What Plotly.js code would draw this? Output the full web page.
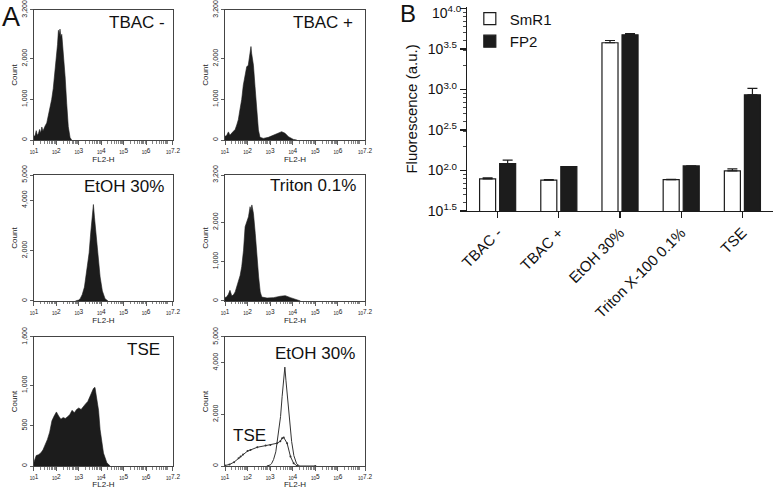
<!DOCTYPE html>
<html><head><meta charset="utf-8">
<script src="https://cdn.plot.ly/plotly-3.0.1.min.js"></script>
<style>html,body{margin:0;padding:0;background:#fff}#chart{width:774px;height:489px}</style>
</head><body><div id="chart"></div>
<script>
// ---------- Panel A: flow cytometry histograms (FL2-H in log10 units, counts) ----------
const tbacMinusLog = [1.00,1.05,1.10,1.15,1.20,1.25,1.30,1.35,1.40,1.45,1.50,1.57,1.64,1.72,1.79,1.86,1.94,2.01,2.05,2.09,2.13,2.16,2.20,2.24,2.31,2.39,2.46,2.53,2.61,2.68];
const tbacMinusCount = [90,110,230,120,160,260,170,320,220,300,350,420,600,800,1000,1270,1700,2100,2350,2700,2600,2730,2550,2600,2200,1550,900,330,60,0];

const tbacPlusLog = [1.00,1.07,1.15,1.22,1.30,1.37,1.45,1.52,1.59,1.66,1.74,1.81,1.89,1.96,2.03,2.07,2.11,2.15,2.18,2.22,2.26,2.33,2.40,2.48,2.55,2.70,2.92,3.14,3.36,3.51,3.66,3.81,4.03,4.18];
const tbacPlusCount = [90,110,200,120,170,210,260,370,500,740,1000,1350,1600,1800,1840,2050,2215,2300,2130,2000,1840,1310,740,245,65,40,65,125,180,205,165,80,15,0];

const etohLog = [2.85,3.00,3.06,3.15,3.25,3.32,3.40,3.46,3.53,3.60,3.65,3.70,3.77,3.85,3.95,4.05,4.17,4.30];
const etohCount = [0,40,90,250,550,955,1450,1915,2700,3500,3830,3300,2600,1915,955,400,90,0];

const tritonLog = [1.00,1.07,1.15,1.22,1.30,1.37,1.45,1.52,1.60,1.67,1.74,1.82,1.89,1.97,2.04,2.11,2.15,2.19,2.26,2.34,2.41,2.49,2.56,2.63,2.86,3.15,3.45,3.67,3.90,4.12,4.34];
const tritonCount = [90,100,170,270,130,150,230,355,480,650,870,1290,1885,2010,2140,2395,2300,2440,2225,1715,1120,610,230,100,75,85,120,135,85,35,0];

const tseLog = [1.00,1.10,1.20,1.30,1.40,1.50,1.60,1.70,1.80,1.90,2.00,2.10,2.20,2.30,2.40,2.50,2.60,2.70,2.80,2.90,3.00,3.10,3.20,3.30,3.40,3.50,3.58,3.65,3.72,3.80,3.88,3.95,4.05,4.10,4.25,4.40];
const tseCount = [50,130,140,160,200,260,330,420,560,620,670,620,580,600,590,610,640,690,660,700,720,700,740,770,800,860,930,960,975,850,690,450,250,160,40,0];

const tseOverlayLog = [1.00,1.20,1.40,1.60,1.69,1.80,2.00,2.13,2.43,2.80,3.01,3.31,3.45,3.53,3.60,3.75,3.90,4.04,4.20,5.00];
const tseOverlayCount = [20,60,150,300,364,450,580,623,727,790,818,883,960,1078,1104,883,364,104,0,0];

const decadeTicks = [10,100,1000,10000,100000,1000000,15848932];
const decadeLabels = ['1','2','3','4','5','6','7.2'];

// ---------- Panel B: bar chart ----------
const categories = ['TBAC -','TBAC +','EtOH 30%','Triton X-100 0.1%','TSE'];
const smr1 = [79, 76, 3780, 77, 99];
const smr1Err = [2, 1, 250, 1, 6];
const fp2 = [122, 112, 4730, 114, 861];
const fp2Err = [12, 0, 170, 0, 170];
const noErr = [0, 0, 0, 0, 0];
const bTickVals = [31.623, 100, 316.23, 1000, 3162.3, 10000];
const bTickText = ['1.5','2.0','2.5','3.0','3.5','4.0'];

const FONT = 'Liberation Sans, Arial, sans-serif';
const toLin = a => a.map(v => Math.pow(10, v));
const INK = '#1c1c1c';

// minor tick positions (log 2..9 within each decade) for the axes
function logMinor(lo, hi) {
  const out = [];
  for (let d = Math.floor(lo); d <= Math.ceil(hi); d++) {
    for (let m = 2; m <= 9; m++) {
      const v = m * Math.pow(10, d);
      const lv = Math.log10(v);
      if (lv > lo && lv < hi) out.push(v);
    }
  }
  return out;
}
const histMinor = logMinor(1, 7.2);
const bMinor = logMinor(1.5, 4.0);

function histTrace(logs, counts, n) {
  return {type:'scatter', mode:'lines', x:toLin(logs), y:counts, xaxis:'x'+n, yaxis:'y'+n,
    fill:'tozeroy', fillcolor:INK, line:{color:INK, width:0.6}, showlegend:false, hoverinfo:'skip'};
}
function lineTrace(logs, counts, n, withMarkers) {
  return {type:'scatter', mode: withMarkers ? 'lines+markers' : 'lines', x:toLin(logs), y:counts,
    xaxis:'x'+n, yaxis:'y'+n, line:{color:'#333', width:1}, marker:{size:2, color:'#333'},
    showlegend:false, hoverinfo:'skip'};
}

const traces = [
  histTrace(tbacMinusLog, tbacMinusCount, 1),
  histTrace(tbacPlusLog, tbacPlusCount, 2),
  histTrace(etohLog, etohCount, 3),
  histTrace(tritonLog, tritonCount, 4),
  histTrace(tseLog, tseCount, 5),
  lineTrace(etohLog, etohCount, 6, false),
  lineTrace(tseOverlayLog, tseOverlayCount, 6, true),
  {type:'bar', name:'SmR1', x:categories, y:smr1, xaxis:'x7', yaxis:'y7',
   marker:{color:'#ffffff', line:{color:INK, width:1.2}},
   error_y:{type:'data', symmetric:false, array:smr1Err, arrayminus:noErr, color:INK, thickness:1.2, width:5}},
  {type:'bar', name:'FP2', x:categories, y:fp2, xaxis:'x7', yaxis:'y7',
   marker:{color:INK, line:{color:INK, width:1.2}},
   error_y:{type:'data', symmetric:false, array:fp2Err, arrayminus:noErr, color:INK, thickness:1.2, width:5}}
];

function histX(domain, n) {
  return {type:'log', range:[1, 7.2], domain:domain, anchor:'y'+n,
    tickmode:'array', tickvals:decadeTicks,
    ticktext:decadeLabels.map(e => '<sub>10</sub>'+e),
    tickfont:{size:6.5, family:FONT, color:'#222'}, tickangle:0,
    ticks:'outside', ticklen:4, tickwidth:0.8, tickcolor:'#333',
    minor:{tickmode:'array', tickvals:histMinor, ticks:'outside', ticklen:2.5, tickwidth:0.6, tickcolor:'#333'},
    showline:true, linecolor:'#444', linewidth:1, mirror:true, showgrid:false, zeroline:false,
    automargin:false,
    title:{text:'FL2-H', font:{size:8, family:FONT, color:'#222'}, standoff:2}};
}
function histY(domain, n, top, vals, texts) {
  return {range:[0, top], domain:domain, anchor:'x'+n, tickmode:'array', tickvals:vals, ticktext:texts,
    tickfont:{size:7, family:FONT, color:'#222'}, tickangle:-90,
    ticks:'outside', ticklen:3, tickwidth:0.8, tickcolor:'#333',
    showline:true, linecolor:'#444', linewidth:1, mirror:true, showgrid:false, zeroline:false,
    automargin:false,
    title:{text:'Count', font:{size:8, family:FONT, color:'#222'}, standoff:2}};
}
const t3200 = [[0,1000,2000,3200],['0','1,000','2,000','3,200']];
const t5000 = [[0,2000,4000,5000],['0','2,000','4,000','5,000']];
const t1600 = [[0,500,1000,1600],['0','500','1,000','1,600']];

const dx1 = [0.0439, 0.2235], dx2 = [0.2907, 0.4716];
const dy1 = [0.7137, 0.9796], dy2 = [0.3845, 0.6421], dy3 = [0.0470, 0.3110];

function note(text, n, x, y, size, anchor) {
  return {text:text, xref:'x'+n+' domain', yref:'y'+n+' domain', x:x, y:y, xanchor:anchor||'right', yanchor:'middle',
    showarrow:false, font:{size:size||17, family:FONT, color:'#111'}};
}

// tick labels for panel B; the top one is placed as an annotation so it is not dropped at the page edge
const bTickLabels = bTickText.map((e, i) => i === bTickText.length - 1 ? '' : '10<sup>'+e+'</sup>');

const layout = {
  width:774, height:489, margin:{l:0, r:0, t:0, b:0},
  paper_bgcolor:'#fff', plot_bgcolor:'#fff',
  font:{family:FONT, color:'#111'},
  barmode:'group', bargap:0.345, bargroupgap:0.2,
  xaxis:histX(dx1,1), yaxis:histY(dy1,1,3200,...t3200),
  xaxis2:histX(dx2,2), yaxis2:histY(dy1,2,3200,...t3200),
  xaxis3:histX(dx1,3), yaxis3:histY(dy2,3,5000,...t5000),
  xaxis4:histX(dx2,4), yaxis4:histY(dy2,4,3200,...t3200),
  xaxis5:histX(dx1,5), yaxis5:histY(dy3,5,1600,...t1600),
  xaxis6:histX(dx2,6), yaxis6:histY(dy3,6,5000,...t5000),
  xaxis7:{domain:[0.6034,0.9987], anchor:'y7', range:[-0.5,4.5], showline:true, linecolor:INK, linewidth:1.2,
    ticks:'outside', ticklen:6, tickwidth:1.2, tickcolor:INK, tickangle:-45,
    tickfont:{size:15, family:FONT, color:'#111'}, showgrid:false, zeroline:false, automargin:false},
  yaxis7:{domain:[0.5685,0.9859], anchor:'x7', type:'log', range:[1.5,4.02], tickmode:'array',
    tickvals:bTickVals, ticktext:bTickLabels,
    tickfont:{size:14, family:FONT, color:'#111'}, ticks:'outside', ticklen:6, tickwidth:1.2, tickcolor:INK,
    minor:{tickmode:'array', tickvals:bMinor, ticks:'outside', ticklen:3, tickwidth:0.8, tickcolor:INK},
    showline:true, linecolor:INK, linewidth:1.2, showgrid:false, zeroline:false, automargin:false,
    title:{text:'Fluorescence (a.u.)', font:{size:15, family:FONT, color:'#111'}, standoff:6}},
  showlegend:true,
  legend:{x:0.607, y:0.995, xanchor:'left', yanchor:'top', font:{size:15, family:FONT, color:'#111'},
    bgcolor:'rgba(0,0,0,0)', tracegroupgap:0, traceorder:'normal'},
  annotations:[
    note('TBAC -', 1, 0.957, 0.90),
    note('TBAC +', 2, 0.93, 0.90),
    note('EtOH 30%', 3, 0.95, 0.907),
    note('Triton 0.1%', 4, 0.95, 0.913),
    note('TSE', 5, 0.92, 0.90),
    note('EtOH 30%', 6, 0.943, 0.868),
    note('TSE', 6, 0.31, 0.235),
    {text:'10<sup>'+bTickText[bTickText.length-1]+'</sup>', xref:'paper', yref:'y7', x:0.5995, y:4.0,
     xanchor:'right', yanchor:'middle', yshift:-3, showarrow:false, font:{size:14, family:FONT, color:'#111'}},
    {text:'A', xref:'paper', yref:'paper', x:0.0, y:1.0, xanchor:'left', yanchor:'top', showarrow:false,
     font:{size:27, family:FONT, color:'#111'}},
    {text:'B', xref:'paper', yref:'paper', x:0.514, y:1.005, xanchor:'left', yanchor:'top', showarrow:false,
     font:{size:24, family:FONT, color:'#111'}}
  ]
};

Plotly.newPlot('chart', traces, layout, {displayModeBar:false, staticPlot:true});
</script></body></html>
